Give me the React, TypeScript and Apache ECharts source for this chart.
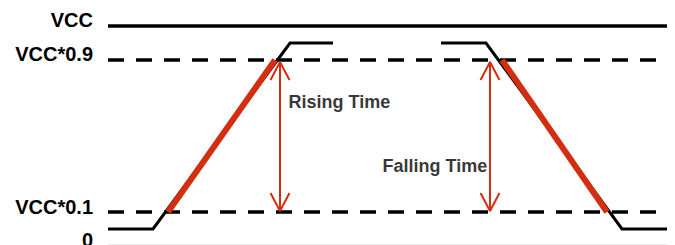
import React, { useEffect, useRef } from "react";
import * as echarts from "echarts";

// Schematic units: x = time units, y = level units (not to scale, as in the diagram)
const xSpan = [0, 559];
const ySpan = [0, 244];

// Level values
const vccLevel = 218;
const highLevel = 201;
const th90Level = 184;
const th10Level = 32;
const lowLevel = 15;

// Left axis label names and their anchor values
const levelLabels = ["VCC", "VCC*0.9", "VCC*0.1", "0"];
const levelLabelValues = [224.5, 190.5, 37.5, 4];

// Waveform (black) points
const risingX = [0, 45, 182, 225];
const risingY = [lowLevel, lowLevel, highLevel, highLevel];
const fallingX = [333, 378, 514, 559];
const fallingY = [highLevel, highLevel, lowLevel, lowLevel];

// Highlighted 10%-90% segments (red)
const riseHiX = [60, 167];
const riseHiY = [th10Level, th90Level];
const fallHiX = [394, 499];
const fallHiY = [th90Level, th10Level];

// Threshold dashed lines extent
const dashedX = [0, 548];

// Measurement arrows
const arrowX = [172, 382];
const arrowBottom = 33;
const arrowTop = 182;
const arrowHeadHalf = 9.5;
const arrowHeadLen = 18;

// Annotation labels
const noteTexts = ["Rising Time", "Falling Time"];
const noteX = [180, 274];
const noteY = [142, 78];

const RED = "#d42e12";
const FONT = "'Liberation Sans', Arial, Helvetica, sans-serif";

function zip(xs: number[], ys: number[]) {
  return xs.map((x, i) => [x, ys[i]]);
}

export default function App() {
  const ref = useRef<HTMLDivElement>(null);
  useEffect(() => {
    if (!ref.current) return;
    const chart = echarts.init(ref.current, null, { renderer: "svg" });

    const lineBase = {
      type: "line" as const,
      symbol: "none",
      showSymbol: false,
      silent: true,
    };

    const series: any[] = [];
    // VCC solid line
    series.push({
      ...lineBase,
      data: [
        [xSpan[0], vccLevel],
        [xSpan[1], vccLevel],
      ],
      lineStyle: { color: "#000", width: 3.5 },
      z: 2,
    });
    // Dashed thresholds
    [th90Level, th10Level].forEach((lv) => {
      series.push({
        ...lineBase,
        data: [
          [dashedX[0], lv],
          [dashedX[1], lv],
        ],
        lineStyle: { color: "#000", width: 3.5, type: [16, 12], cap: "butt" },
        z: 2,
      });
    });
    // Waveforms
    series.push({
      ...lineBase,
      data: zip(risingX, risingY),
      lineStyle: { color: "#000", width: 3, join: "miter" },
      z: 3,
    });
    series.push({
      ...lineBase,
      data: zip(fallingX, fallingY),
      lineStyle: { color: "#000", width: 3, join: "miter" },
      z: 3,
    });
    // Red highlights
    series.push({
      ...lineBase,
      data: zip(riseHiX, riseHiY),
      lineStyle: { color: RED, width: 6, cap: "butt" },
      z: 4,
    });
    series.push({
      ...lineBase,
      data: zip(fallHiX, fallHiY),
      lineStyle: { color: RED, width: 6, cap: "butt" },
      z: 4,
    });
    // Arrows
    arrowX.forEach((ax) => {
      const data: any[] = [
        [ax, arrowBottom],
        [ax, arrowTop],
        "-",
        [ax - arrowHeadHalf, arrowTop - arrowHeadLen],
        [ax, arrowTop],
        [ax + arrowHeadHalf, arrowTop - arrowHeadLen],
        "-",
        [ax - arrowHeadHalf, arrowBottom + arrowHeadLen],
        [ax, arrowBottom],
        [ax + arrowHeadHalf, arrowBottom + arrowHeadLen],
      ];
      series.push({
        ...lineBase,
        data,
        connectNulls: false,
        lineStyle: { color: RED, width: 2 },
        z: 5,
      });
    });
    // Notes
    series.push({
      type: "scatter",
      silent: true,
      symbolSize: 1,
      itemStyle: { color: "rgba(0,0,0,0)" },
      data: noteTexts.map((t, i) => [noteX[i], noteY[i], t]),
      label: {
        show: true,
        position: "right",
        distance: 0,
        formatter: (p: any) => p.data[2],
        color: "#000",
        fontFamily: FONT,
        fontWeight: "bold",
        fontSize: 18,
        verticalAlign: "middle",
      },
      z: 6,
    });

    chart.setOption({
      animation: false,
      backgroundColor: "#fff",
      grid: { left: 108, right: 8, top: 0, bottom: 1, outerBoundsMode: "none", containLabel: false },
      xAxis: {
        type: "value",
        min: xSpan[0],
        max: xSpan[1],
        axisLine: { show: true, lineStyle: { color: "#ececec", width: 1 } },
        axisTick: { show: false },
        axisLabel: { show: false },
        splitLine: { show: false },
      },
      yAxis: {
        type: "value",
        min: ySpan[0],
        max: ySpan[1],
        axisLine: { show: false },
        axisTick: { show: false },
        splitLine: { show: false },
        axisLabel: {
          show: true,
          customValues: levelLabelValues,
          formatter: (v: number) => {
            const i = levelLabelValues.findIndex((x) => Math.abs(x - v) < 0.01);
            return i >= 0 ? levelLabels[i] : "";
          },
          margin: 15,
          color: "#000",
          fontFamily: FONT,
          fontWeight: "bold",
          fontSize: 20,
          showMinLabel: true,
          showMaxLabel: true,
        },
      },
      series,
    });
    return () => chart.dispose();
  }, []);
  return (
    <div
      ref={ref}
      style={{ position: "absolute", left: 0, top: 0, width: 675, height: 245 }}
    />
  );
}
